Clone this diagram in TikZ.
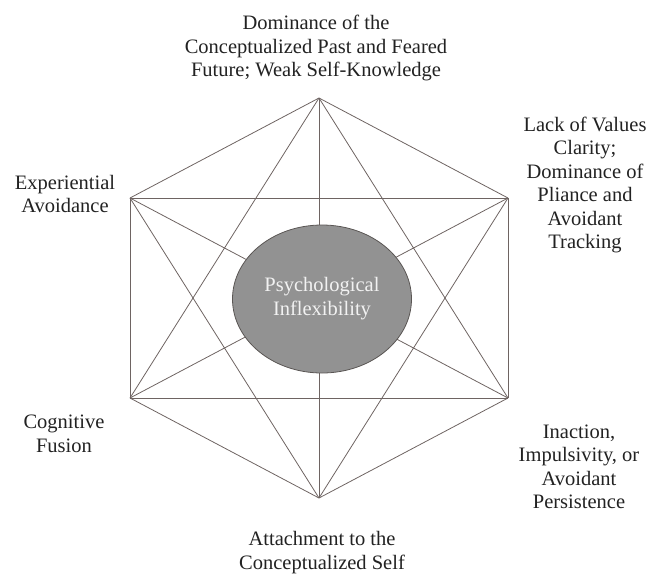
\documentclass[tikz,border=0pt]{standalone}
\usepackage{fontspec}
\setmainfont{Liberation Serif}
\usetikzlibrary{shapes.geometric}
\definecolor{edgec}{HTML}{6E6462}
\definecolor{corefill}{HTML}{929292}
\definecolor{coredraw}{HTML}{5A5654}
\definecolor{txt}{HTML}{222222}
\definecolor{coretxt}{HTML}{F2F2F2}
\begin{document}
\begin{tikzpicture}[x=1pt,y=-1pt,
  edge/.style={draw=edgec, line width=0.8pt},
  lbl/.style={align=center, font=\fontsize{20.5}{23.5}\selectfont, text=txt, inner sep=0pt},
  core/.style={ellipse, fill=corefill, draw=coredraw, line width=0.8pt, minimum width=179pt, minimum height=148pt, inner sep=0pt, align=center, font=\fontsize{20.5}{24}\selectfont, text=coretxt}]
\useasboundingbox (0,0) rectangle (651,574);
\coordinate (T) at (319,98);
\coordinate (UL) at (130,198);
\coordinate (UR) at (508,198);
\coordinate (LL) at (130,398);
\coordinate (LR) at (508,398);
\coordinate (B) at (319,498);
\foreach \a/\b in {T/UL,T/UR,UL/LL,UR/LR,LL/B,LR/B,T/LL,T/LR,UL/UR,LL/LR,UL/B,UR/B,T/B,UL/LR,UR/LL}
  \draw[edge] (\a) -- (\b);
\node[core] (c) at (322,299) {Psychological\\Inflexibility};
\node[lbl] (t) at (316,48) {Dominance of the\\Conceptualized Past and Feared\\Future; Weak Self-Knowledge};
\node[lbl] (ur) at (585,185) {Lack of Values\\Clarity;\\Dominance of\\Pliance and\\Avoidant\\Tracking};
\node[lbl] (ul) at (65,194) {Experiential\\Avoidance};
\node[lbl] (ll) at (64,434) {Cognitive\\Fusion};
\node[lbl] (lr) at (579,467) {Inaction,\\Impulsivity, or\\Avoidant\\Persistence};
\node[lbl] (b) at (322,552.5) {Attachment to the\\Conceptualized Self};
\end{tikzpicture}
\end{document}
